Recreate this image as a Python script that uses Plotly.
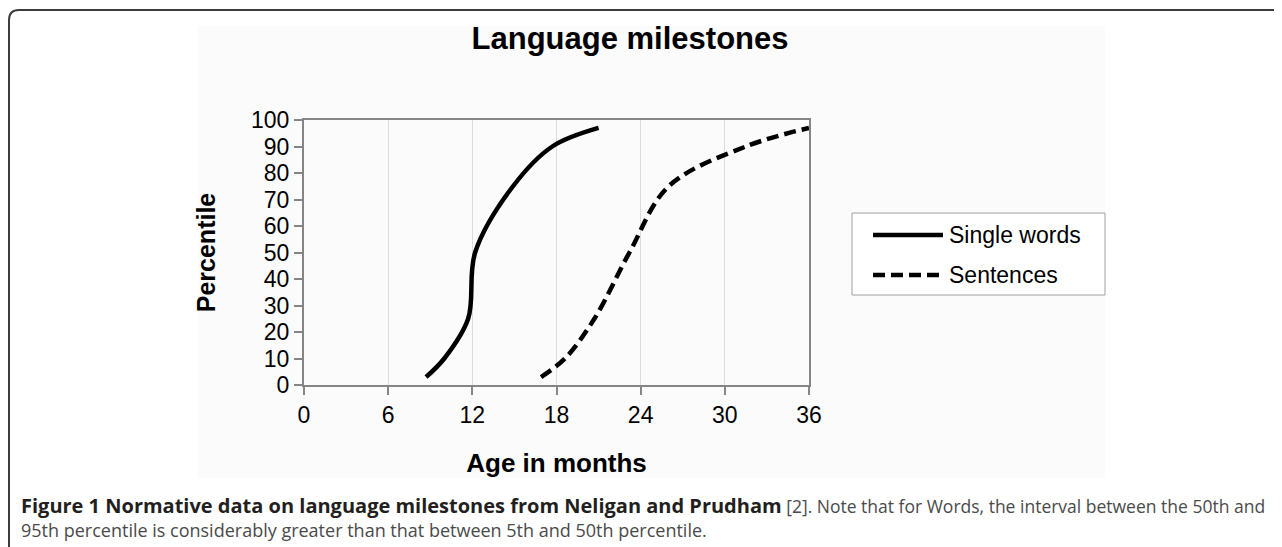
import plotly.graph_objects as go

# ---------------- data ----------------
percentiles = [3, 10, 25, 50, 75, 90, 97]
single_words_age = [8.7, 10.0, 11.7, 12.2, 14.9, 17.7, 21.0]
sentences_age = [16.9, 18.6, 20.7, 23.2, 26.0, 31.5, 36.0]
series_names = ["Single words", "Sentences"]
x_ticks = [0, 6, 12, 18, 24, 30, 36]
y_ticks = [0, 10, 20, 30, 40, 50, 60, 70, 80, 90, 100]

chart_title = "Language milestones"
x_title = "Age in months"
y_title = "Percentile"
caption_bold = "Figure 1 Normative data on language milestones from Neligan and Prudham"
caption_rest1 = " [2]. Note that for Words, the interval between the 50th and"
caption_line2 = "95th percentile is considerably greater than that between 5th and 50th percentile."

# ---------------- layout geometry ----------------
# the page body adds an 8px margin, so the figure is drawn 8px smaller and
# every reference pixel position is shifted by that offset
OFF = 8
W, H = 1282 - OFF, 547 - OFF
RL, RR, RT, RB = 304, 809, 120, 385   # plot area edges in reference pixels
PL, PR, PT, PB = RL - OFF, RR - OFF, RT - OFF, RB - OFF


def px(x):
    return (x - OFF - PL) / (PR - PL)


def py(y):
    return (PB - (y - OFF)) / (PB - PT)


ARIAL = "Liberation Sans, Arial, Helvetica, sans-serif"
CAPFONT = "Open Sans, Noto Sans, sans-serif"

fig = go.Figure()
fig.add_trace(go.Scatter(
    x=single_words_age, y=percentiles, name=series_names[0], mode="lines",
    line=dict(color="black", width=4.5, shape="spline", smoothing=1.0),
    showlegend=False))
fig.add_trace(go.Scatter(
    x=sentences_age, y=percentiles, name=series_names[1], mode="lines",
    line=dict(color="black", width=4.5, shape="spline", smoothing=1.0, dash="12px,6px"),
    showlegend=False))

shapes = []
# light chart background
shapes.append(dict(type="rect", xref="paper", yref="paper",
                   x0=px(198), x1=px(1105), y0=py(478), y1=py(26),
                   fillcolor="#fbfbfb", line=dict(width=0), layer="below"))
# outer rounded frame (open at the bottom and right)
rx, ry = 10 / (PR - PL), 10 / (PB - PT)
xl, yt, yb, xr = px(9), py(10), py(570), px(1320)
shapes.append(dict(type="path", xref="paper", yref="paper",
                   path=f"M {xl},{yb} L {xl},{yt - ry} Q {xl},{yt} {xl + rx},{yt} L {xr},{yt}",
                   line=dict(color="#3c3c3c", width=2)))
# legend box
shapes.append(dict(type="rect", xref="paper", yref="paper",
                   x0=px(852), x1=px(1105), y0=py(295), y1=py(213),
                   fillcolor="white", line=dict(color="#a0a0a0", width=1)))
# legend samples
shapes.append(dict(type="line", xref="paper", yref="paper",
                   x0=px(873), x1=px(943), y0=py(235), y1=py(235),
                   line=dict(color="black", width=4.5)))
shapes.append(dict(type="line", xref="paper", yref="paper",
                   x0=px(873), x1=px(943), y0=py(275), y1=py(275),
                   line=dict(color="black", width=4.5, dash="12px,6px")))

annotations = [
    dict(text=series_names[0], xref="paper", yref="paper", x=px(947), y=py(235),
         xanchor="left", yanchor="middle", showarrow=False,
         font=dict(family=ARIAL, size=23, color="black")),
    dict(text=series_names[1], xref="paper", yref="paper", x=px(947), y=py(275),
         xanchor="left", yanchor="middle", showarrow=False,
         font=dict(family=ARIAL, size=23, color="black")),
    dict(text=f"<b><span style='color:#231f20;font-size:20px'>{caption_bold}</span></b>"
              f"<span style='color:#4a4a4a'>{caption_rest1}</span>",
         xref="paper", yref="paper", x=px(19), y=py(505),
         xanchor="left", yanchor="middle", showarrow=False,
         font=dict(family=CAPFONT, size=17.5, color="#4a4a4a")),
    dict(text=caption_line2, xref="paper", yref="paper", x=px(19), y=py(530),
         xanchor="left", yanchor="middle", showarrow=False,
         font=dict(family=CAPFONT, size=18, color="#4a4a4a")),
]

fig.update_layout(
    width=W, height=H,
    margin=dict(l=PL, r=W - PR, t=PT, b=H - PB, autoexpand=False),
    paper_bgcolor="white", plot_bgcolor="rgba(0,0,0,0)",
    title=dict(text=f"<b>{chart_title}</b>", x=(630 - OFF) / W, xanchor="center",
               y=1 - (38 - OFF) / H, yanchor="middle", yref="container",
               font=dict(family=ARIAL, size=31, color="black")),
    shapes=shapes, annotations=annotations, showlegend=False,
)
fig.update_xaxes(
    range=[0, 36], tickvals=x_ticks, ticktext=[str(v) for v in x_ticks],
    showline=True, linecolor="#858585", linewidth=2, mirror=True,
    ticks="outside", ticklen=8, tickcolor="#858585", tickwidth=1.5,
    showgrid=True, gridcolor="#dcdcdc", gridwidth=1, zeroline=False,
    tickfont=dict(family=ARIAL, size=23, color="black"),
    title=dict(text=f"<b>{x_title}</b>", standoff=27,
               font=dict(family=ARIAL, size=26, color="black")),
)
fig.update_yaxes(
    range=[0, 100], tickvals=y_ticks, ticktext=[str(v) for v in y_ticks],
    showline=True, linecolor="#858585", linewidth=2, mirror=True,
    ticks="outside", ticklen=8, tickcolor="#858585", tickwidth=1.5,
    showgrid=False, zeroline=False,
    tickfont=dict(family=ARIAL, size=23, color="black"),
    title=dict(text=f"<b>{y_title}</b>", standoff=28,
               font=dict(family=ARIAL, size=25, color="black")),
)

fig.write_html("out.html")
